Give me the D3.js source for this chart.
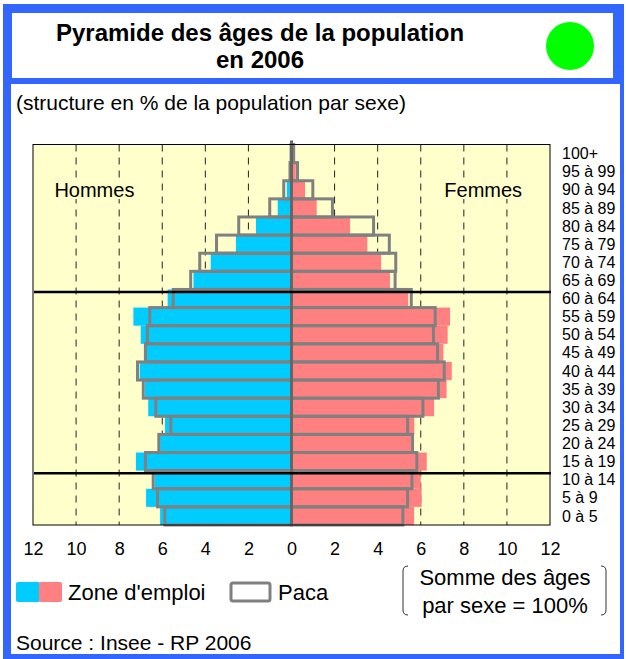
<!DOCTYPE html>
<html>
<head>
<meta charset="utf-8">
<script src="https://cdn.jsdelivr.net/npm/d3@7"></script>
<style>
  body { margin: 0; background: #fff; }
  text { font-family: "Liberation Sans", Arial, sans-serif; }
</style>
</head>
<body>
<div id="chart-container"></div>
<script>
// age groups, youngest first
const ageGroups = ['0 à 5', '5 à 9', '10 à 14', '15 à 19', '20 à 24', '25 à 29', '30 à 34',
  '35 à 39', '40 à 44', '45 à 49', '50 à 54', '55 à 59', '60 à 64', '65 à 69', '70 à 74',
  '75 à 79', '80 à 84', '85 à 89', '90 à 94', '95 à 99', '100+'];

// % of population by sex
const zoneHommes = [6.1, 6.75, 6.35, 7.22, 6.1, 5.87, 6.65, 6.8, 7.05, 6.85, 7.0, 7.34, 5.75,
  4.55, 3.75, 2.58, 1.65, 0.64, 0.22, 0.05, 0.02];
const zoneFemmes = [5.69, 6.04, 6.0, 6.28, 5.55, 5.7, 6.62, 7.2, 7.44, 7.05, 7.25, 7.36, 5.42,
  4.57, 4.16, 3.52, 2.72, 1.17, 0.63, 0.2, 0.05];
const pacaHommes = [5.88, 6.22, 6.42, 6.78, 6.16, 5.6, 6.3, 6.88, 7.15, 6.78, 6.69, 6.58, 5.49,
  4.68, 4.26, 3.48, 2.45, 1.01, 0.36, 0.07, 0.02];
const pacaFemmes = [5.17, 5.39, 5.59, 5.82, 5.62, 5.39, 6.1, 6.82, 7.09, 6.78, 6.59, 6.67, 5.56,
  4.81, 4.84, 4.54, 3.81, 1.9, 0.99, 0.28, 0.1];

const tickValues = [-12, -10, -8, -6, -4, -2, 0, 2, 4, 6, 8, 10, 12];
const gridValues = [-10, -8, -6, -4, -2, 2, 4, 6, 8, 10];
// black reference lines sit above these groups
const refLineGroups = ['10 à 14', '60 à 64'];

const W = 626, H = 659;
const plot = {left: 33, right: 550, top: 144.5, bottom: 525};
const BLUE = '#00ccff', PINK = '#ff8080', GRAY = '#808080';

const svg = d3.select('#chart-container').append('svg')
  .attr('width', W)
  .attr('height', H);

// frame
svg.append('rect').attr('x', 3).attr('y', 4).attr('width', 621).attr('height', 655).attr('fill', '#3366ff');
svg.append('rect').attr('x', 12).attr('y', 13).attr('width', 601).attr('height', 65).attr('fill', '#fff');
svg.append('rect').attr('x', 11).attr('y', 84).attr('width', 609).attr('height', 570).attr('fill', '#fff');

svg.append('text')
  .attr('x', 260).attr('y', 33).attr('dy', '0.35em')
  .attr('text-anchor', 'middle')
  .style('font-size', '24px').style('font-weight', 'bold')
  .text('Pyramide des âges de la population');
svg.append('text')
  .attr('x', 260).attr('y', 60).attr('dy', '0.35em')
  .attr('text-anchor', 'middle')
  .style('font-size', '24px').style('font-weight', 'bold')
  .text('en 2006');
svg.append('circle').attr('cx', 570).attr('cy', 46).attr('r', 24).attr('fill', '#00ff00');

svg.append('text')
  .attr('x', 16).attr('y', 103).attr('dy', '0.35em')
  .style('font-size', '21px')
  .text('(structure en % de la population par sexe)');

// scales
const x = d3.scaleLinear().domain([-12, 12]).range([plot.left, plot.right]);
const y = d3.scaleBand().domain(ageGroups.slice().reverse()).range([plot.top, plot.bottom]).padding(0);

svg.append('rect')
  .attr('x', plot.left).attr('y', plot.top)
  .attr('width', plot.right - plot.left).attr('height', plot.bottom - plot.top)
  .attr('fill', '#ffffcc');

svg.append('g').selectAll('line')
  .data(gridValues)
  .enter().append('line')
  .attr('x1', d => x(d)).attr('x2', d => x(d))
  .attr('y1', plot.top).attr('y2', plot.bottom)
  .attr('stroke', '#222')
  .attr('stroke-width', 1)
  .attr('stroke-dasharray', '7,6');

// sex labels hide the grid behind them
[['Hommes', x(-9.15)], ['Femmes', x(8.9)]].forEach(([label, cx]) => {
  const t = svg.append('text')
    .attr('x', cx).attr('y', 190).attr('dy', '0.35em')
    .attr('text-anchor', 'middle')
    .style('font-size', '20px')
    .text(label);
  const b = t.node().getBBox();
  svg.insert('rect', () => t.node())
    .attr('x', b.x - 3).attr('y', b.y + 2).attr('width', b.width + 6).attr('height', b.height - 4)
    .attr('fill', '#ffffcc');
});

const rows = ageGroups.map((g, i) => ({
  g: g, zh: zoneHommes[i], zf: zoneFemmes[i], ph: pacaHommes[i], pf: pacaFemmes[i]
}));

const bars = svg.append('g');
bars.selectAll('rect.h')
  .data(rows)
  .enter().append('rect')
  .attr('class', 'h')
  .attr('x', d => x(-d.zh)).attr('y', d => y(d.g))
  .attr('width', d => x(0) - x(-d.zh)).attr('height', y.bandwidth())
  .attr('fill', BLUE);
bars.selectAll('rect.f')
  .data(rows)
  .enter().append('rect')
  .attr('class', 'f')
  .attr('x', x(0)).attr('y', d => y(d.g))
  .attr('width', d => x(d.zf) - x(0)).attr('height', y.bandwidth())
  .attr('fill', PINK);

const paca = svg.append('g')
  .attr('fill', 'none')
  .attr('stroke', GRAY)
  .attr('stroke-width', 3);
paca.selectAll('rect.h')
  .data(rows)
  .enter().append('rect')
  .attr('class', 'h')
  .attr('x', d => x(-d.ph)).attr('y', d => y(d.g))
  .attr('width', d => x(0) - x(-d.ph)).attr('height', y.bandwidth());
paca.selectAll('rect.f')
  .data(rows)
  .enter().append('rect')
  .attr('class', 'f')
  .attr('x', x(0)).attr('y', d => y(d.g))
  .attr('width', d => x(d.pf) - x(0)).attr('height', y.bandwidth());

// zero axis
svg.append('line')
  .attr('x1', x(0)).attr('x2', x(0))
  .attr('y1', plot.top - 4).attr('y2', plot.bottom)
  .attr('stroke', '#666').attr('stroke-width', 3);

svg.append('g').selectAll('line')
  .data(refLineGroups)
  .enter().append('line')
  .attr('x1', plot.left + 1).attr('x2', plot.right + 1)
  .attr('y1', d => y(d) + 2.5).attr('y2', d => y(d) + 2.5)
  .attr('stroke', '#000').attr('stroke-width', 2.5);

svg.append('rect')
  .attr('x', plot.left).attr('y', plot.top)
  .attr('width', plot.right - plot.left).attr('height', plot.bottom - plot.top)
  .attr('fill', 'none').attr('stroke', '#000').attr('stroke-width', 1);

// age labels
svg.append('g').selectAll('text')
  .data(ageGroups)
  .enter().append('text')
  .attr('x', 562)
  .attr('y', d => y(d) + y.bandwidth() / 2).attr('dy', '0.35em')
  .style('font-size', '16px')
  .text(d => d);

// x axis
const xAxis = d3.axisBottom(x)
  .tickValues(tickValues)
  .tickSize(0)
  .tickPadding(0)
  .tickFormat(d => Math.abs(d));
const axisG = svg.append('g')
  .attr('transform', 'translate(0,' + 542 + ')')
  .call(xAxis);
axisG.select('.domain').remove();
axisG.selectAll('text')
  .attr('font-family', '"Liberation Sans", Arial, sans-serif')
  .style('font-size', '18px')
  .attr('fill', '#000');

// legend
svg.append('rect').attr('x', 16).attr('y', 582).attr('width', 24).attr('height', 20).attr('rx', 2).attr('fill', BLUE);
svg.append('rect').attr('x', 39).attr('y', 582).attr('width', 23).attr('height', 20).attr('rx', 2).attr('fill', PINK);
svg.append('text')
  .attr('x', 68).attr('y', 592).attr('dy', '0.35em')
  .style('font-size', '22px')
  .text("Zone d'emploi");
svg.append('rect')
  .attr('x', 231).attr('y', 583).attr('width', 39).attr('height', 18).attr('rx', 2)
  .attr('fill', '#fff').attr('stroke', GRAY).attr('stroke-width', 3);
svg.append('text')
  .attr('x', 278).attr('y', 592).attr('dy', '0.35em')
  .style('font-size', '22px')
  .text('Paca');

// bracket note
const bracket = (x0, dir) => 'M' + (x0 + dir * 5) + ',566 Q' + x0 + ',566 ' + x0 + ',571 L' + x0 + ',610 Q' + x0 + ',615 ' + (x0 + dir * 5) + ',615';
svg.append('path').attr('d', bracket(403, 1)).attr('fill', 'none').attr('stroke', '#333').attr('stroke-width', 1);
svg.append('path').attr('d', bracket(606, -1)).attr('fill', 'none').attr('stroke', '#333').attr('stroke-width', 1);
svg.append('text')
  .attr('x', 505).attr('y', 577).attr('dy', '0.35em')
  .attr('text-anchor', 'middle')
  .style('font-size', '22px')
  .text('Somme des âges');
svg.append('text')
  .attr('x', 505).attr('y', 605).attr('dy', '0.35em')
  .attr('text-anchor', 'middle')
  .style('font-size', '22px')
  .text('par sexe = 100%');

svg.append('text')
  .attr('x', 16).attr('y', 643).attr('dy', '0.35em')
  .style('font-size', '21px')
  .text('Source : Insee - RP 2006');
</script>
</body>
</html>
